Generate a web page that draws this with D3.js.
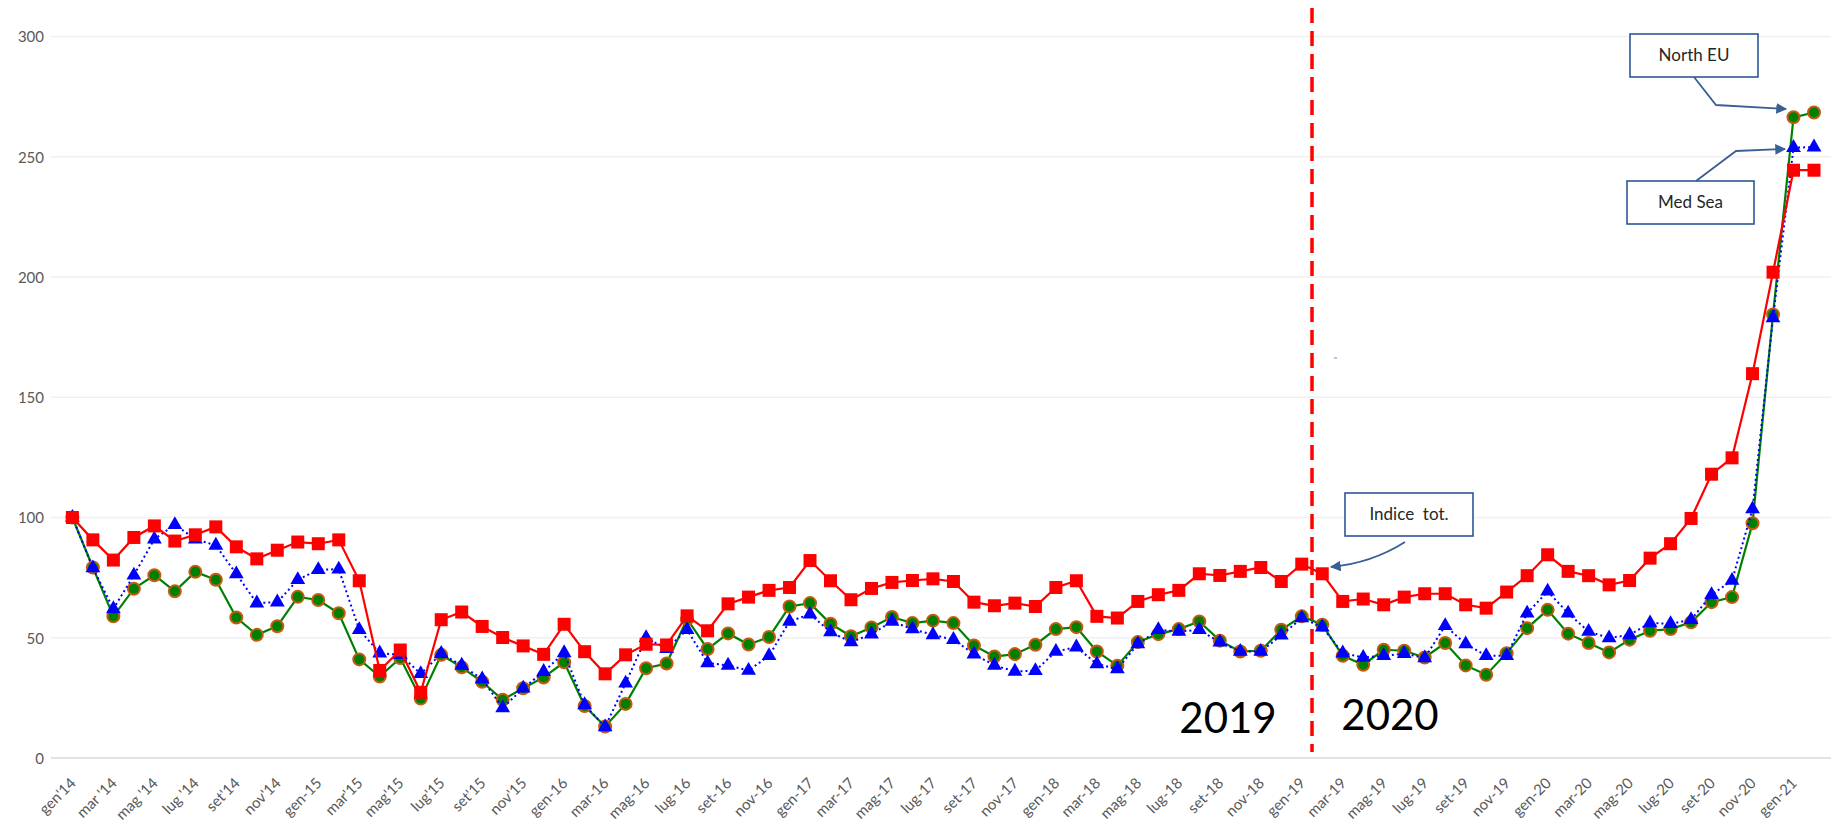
<!DOCTYPE html>
<html>
<head>
<meta charset="utf-8">
<script src="https://cdn.jsdelivr.net/npm/d3@7"></script>
<style>
  html, body { margin: 0; padding: 0; background: #ffffff; }
  svg { display: block; }
  text { font-family: Lato, "Open Sans", "Liberation Sans", sans-serif; }
</style>
</head>
<body>
<svg id="chart" width="1831" height="822"></svg>
<script>
// ---------- DATA ----------
const monthNames = ["gen","feb","mar","apr","mag","giu","lug","ago","set","ott","nov","dic"];
const categories = [];
for (let y = 2014; y <= 2021; y++) {
  for (let m = 0; m < 12; m++) {
    if (y === 2021 && m > 1) break;
    categories.push(monthNames[m] + "-" + String(y).slice(2));
  }
}
// 86 months: gen-14 ... feb-21

const tickLabels = ["gen'14","mar '14","mag '14","lug '14","set'14","nov'14",
  "gen-15","mar'15","mag'15","lug'15","set'15","nov'15",
  "gen-16","mar-16","mag-16","lug-16","set-16","nov-16",
  "gen-17","mar-17","mag-17","lug-17","set-17","nov-17",
  "gen-18","mar-18","mag-18","lug-18","set-18","nov-18",
  "gen-19","mar-19","mag-19","lug-19","set-19","nov-19",
  "gen-20","mar-20","mag-20","lug-20","set-20","nov-20",
  "gen-21"];

const yTicks = [0, 50, 100, 150, 200, 250, 300];

// Indice tot. (red squares)
const indiceTot = [100,90.7,82.3,91.7,96.5,90.2,92.8,96.1,87.8,82.8,86.4,89.8,
  89.1,90.7,73.7,36.4,44.9,27.3,57.5,60.7,54.7,50.1,46.6,43.1,
  55.6,44.2,35.0,42.9,47.3,47.0,59.1,52.9,64.1,66.9,69.7,70.9,
  82.1,73.7,65.8,70.5,73.0,73.8,74.5,73.4,64.8,63.3,64.4,63.0,
  70.9,73.7,58.9,58.2,65.1,67.9,69.7,76.6,75.9,77.6,79.2,73.4,
  80.6,76.6,65.1,66.1,63.7,66.9,68.3,68.3,63.7,62.3,69.0,75.8,
  84.5,77.6,75.8,72.0,73.8,83.1,89.1,99.6,118.0,124.8,159.8,202.0,
  244.4,244.4];

// North EU (green circles)
const northEU = [100,79.2,58.9,70.4,76.0,69.3,77.4,74.1,58.4,51.2,54.8,67.0,
  65.7,60.2,41.0,33.9,41.6,24.7,42.9,37.7,31.7,24.2,29.0,33.5,
  39.8,21.6,13.1,22.5,37.3,39.3,57.8,45.3,51.8,47.2,50.3,63.0,
  64.4,55.8,50.6,54.3,58.6,56.1,57.1,56.1,46.8,42.2,43.2,47.1,
  53.6,54.4,44.3,38.4,48.2,51.5,53.6,56.8,48.8,44.3,44.6,53.3,
  58.9,55.4,42.5,38.8,45.0,44.6,41.8,47.8,38.5,34.6,43.6,54.0,
  61.6,51.7,47.8,43.9,49.2,52.9,53.6,56.4,64.8,66.9,97.6,184.4,
  266.4,268.4];

// Med Sea (blue triangles)
const medSea = [100,79,62,76,91,97,91,88.4,76.5,64.4,64.8,74.1,
  78.3,78.5,53.3,43.6,42.9,35.0,43.4,38.5,32.8,20.8,29.0,35.9,
  43.7,22.1,12.9,31.1,50.0,45.4,53.3,39.5,38.5,36.4,42.5,56.8,
  59.8,52.4,48.2,51.5,56.8,53.6,51.2,49.2,43.2,38.5,36.0,36.3,
  44.3,46.1,39.1,37.0,47.4,53.3,52.6,53.3,48.1,44.3,44.3,51.0,
  58.2,54.4,43.6,41.8,42.5,43.4,41.6,55.0,47.4,42.5,42.5,60.2,
  69.3,60.2,52.6,49.9,51.2,56.1,55.8,57.5,67.9,73.8,103.5,183.0,
  253.8,254.0];

// ---------- LAYOUT ----------
const svg = d3.select("#chart");
const gridX0 = 51, gridX1 = 1831;
const x = d3.scalePoint().domain(categories).range([72.4, 1814.0]);
const y = d3.scaleLinear().domain([0, 300]).range([758, 36.5]);

// gridlines
svg.append("g").selectAll("line").data(yTicks.filter(d => d > 0)).join("line")
  .attr("x1", gridX0).attr("x2", gridX1)
  .attr("y1", d => y(d)).attr("y2", d => y(d))
  .attr("stroke", "#f0f0f0").attr("stroke-width", 1.5);
// base line
svg.append("line").attr("x1", gridX0).attr("x2", gridX1)
  .attr("y1", y(0)).attr("y2", y(0))
  .attr("stroke", "#d9d9d9").attr("stroke-width", 1.5);

// y axis labels
const yAxis = d3.axisLeft(y).tickValues(yTicks).tickSize(0).tickPadding(0);
const gy = svg.append("g").attr("transform", "translate(44,0)").call(yAxis);
gy.select(".domain").remove();
gy.selectAll("text").attr("fill", "#595959").style("font-size", "15px")
  .style("font-family", "Lato, 'Open Sans', sans-serif").attr("dy", "0.35em");

// x axis labels
const tickCats = categories.filter((d, i) => i % 2 === 0);
const xAxis = d3.axisBottom(x).tickValues(tickCats).tickSize(0)
  .tickFormat((d, i) => tickLabels[i]);
const gx = svg.append("g").attr("transform", "translate(0," + y(0) + ")").call(xAxis);
gx.select(".domain").remove();
gx.selectAll("text")
  .attr("fill", "#595959").style("font-size", "15px")
  .style("font-family", "Lato, 'Open Sans', sans-serif")
  .attr("text-anchor", "end").attr("y", 0).attr("dy", 0)
  .attr("transform", "translate(4,26) rotate(-45)");

// dashed red separator (between gen-19 and feb-19)
const sepX = (x(categories[60]) + x(categories[61])) / 2;
svg.append("line").attr("x1", sepX).attr("x2", sepX).attr("y1", 8).attr("y2", 752)
  .attr("stroke", "#ff0000").attr("stroke-width", 3.5).attr("stroke-dasharray", "15,8");

// year labels
svg.append("text").attr("x", 1228).attr("y", 733).attr("text-anchor", "middle")
  .style("font-size", "42px").attr("fill", "#000").text("2019");
svg.append("text").attr("x", 1390).attr("y", 730).attr("text-anchor", "middle")
  .style("font-size", "42px").attr("fill", "#000").text("2020");

// tiny stray mark
svg.append("line").attr("x1", 1334).attr("x2", 1337).attr("y1", 358).attr("y2", 358)
  .attr("stroke", "#5b8fd0").attr("stroke-width", 1);

// ---------- SERIES ----------
const line = d3.line().x((d, i) => x(categories[i])).y(d => y(d));

// green North EU
svg.append("path").datum(northEU).attr("d", line)
  .attr("fill", "none").attr("stroke", "#008000").attr("stroke-width", 2.2);
svg.append("g").selectAll("circle").data(northEU).join("circle")
  .attr("cx", (d, i) => x(categories[i])).attr("cy", d => y(d)).attr("r", 6)
  .attr("fill", "#008000").attr("stroke", "#c55a11").attr("stroke-width", 2);

// blue Med Sea
svg.append("path").datum(medSea).attr("d", line)
  .attr("fill", "none").attr("stroke", "#0000ff").attr("stroke-width", 2)
  .attr("stroke-dasharray", "2,3");
const tri = d3.symbol().type(d3.symbolTriangle).size(95);
svg.append("g").selectAll("path").data(medSea).join("path")
  .attr("d", tri)
  .attr("transform", (d, i) => "translate(" + x(categories[i]) + "," + y(d) + ")")
  .attr("fill", "#0000ff");

// red Indice tot.
svg.append("path").datum(indiceTot).attr("d", line)
  .attr("fill", "none").attr("stroke", "#ff0000").attr("stroke-width", 2.2);
svg.append("g").selectAll("rect").data(indiceTot).join("rect")
  .attr("x", (d, i) => x(categories[i]) - 6.5).attr("y", d => y(d) - 6.5)
  .attr("width", 13).attr("height", 13).attr("fill", "#ff0000");

// ---------- ANNOTATIONS ----------
const defs = svg.append("defs");
defs.append("marker").attr("id", "arr").attr("viewBox", "0 0 10 10")
  .attr("refX", 9).attr("refY", 5).attr("markerWidth", 6).attr("markerHeight", 6)
  .attr("orient", "auto-start-reverse").attr("markerUnits", "strokeWidth")
  .append("path").attr("d", "M0,0 L10,5 L0,10 z").attr("fill", "#3b5f95");

function box(x0, y0, w, h, label) {
  svg.append("rect").attr("x", x0).attr("y", y0).attr("width", w).attr("height", h)
    .attr("fill", "#ffffff").attr("stroke", "#2f5597").attr("stroke-width", 1.6);
  svg.append("text").attr("x", x0 + w / 2).attr("y", y0 + h / 2).attr("dy", "0.35em")
    .attr("text-anchor", "middle").style("font-size", "17px").attr("fill", "#262626")
    .attr("xml:space", "preserve").style("white-space", "pre").text(label);
}
function arrow(pts) {
  svg.append("path").attr("d", "M" + pts[0] + " Q" + pts[1] + " " + pts[2])
    .attr("fill", "none").attr("stroke", "#3b5f95").attr("stroke-width", 1.8)
    .attr("marker-end", "url(#arr)");
}

box(1345, 493, 128, 43, "Indice  tot.");
arrow([[1405, 542], [1372, 563], [1331, 567]]);

box(1630, 34, 128, 43, "North EU");
svg.append("path").attr("d", "M1694,77 L1716,105 L1786,109")
  .attr("fill", "none").attr("stroke", "#3b5f95").attr("stroke-width", 1.8)
  .attr("marker-end", "url(#arr)");

box(1627, 181, 127, 43, "Med Sea");
svg.append("path").attr("d", "M1696,181 L1736,151 L1785,149")
  .attr("fill", "none").attr("stroke", "#3b5f95").attr("stroke-width", 1.8)
  .attr("marker-end", "url(#arr)");
</script>
</body>
</html>
